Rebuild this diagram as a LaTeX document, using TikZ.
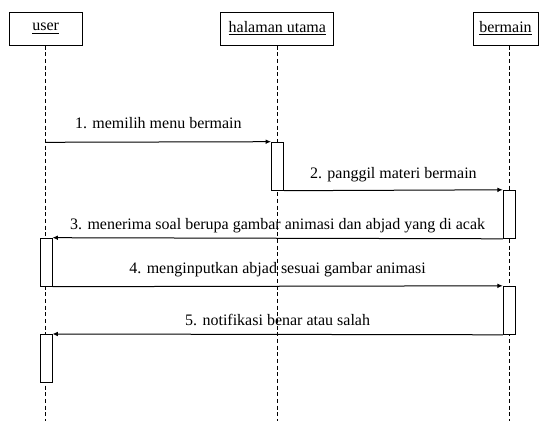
\documentclass[tikz,border=0pt]{standalone}
\usepackage{fontspec}
\setmainfont{Liberation Serif}
\usetikzlibrary{arrows.meta}

\begin{document}
\begin{tikzpicture}[x=0.75pt,y=-0.75pt,>={Latex[length=4pt,width=3.5pt]},
    line width=0.75pt,font=\fontsize{12}{14}\selectfont,
    obj/.style={draw,inner sep=0,minimum height=24.75pt},
    act/.style={draw,fill=white,inner sep=0,minimum width=9pt,minimum height=36pt},
    life/.style={dash pattern=on 3pt off 2pt},
    lbl/.style={anchor=base,inner sep=0}]

\useasboundingbox (0,0) rectangle (539,421);

\node [obj,minimum width=54.75pt] (user) at (45.7,28.5) {\underline{user}};
\node [obj,minimum width=84.75pt] (hal) at (277.3,28.5) {\underline{halaman utama}};
\node [obj,minimum width=48.75pt] (main) at (505.5,28.5) {\underline{bermain}};

\coordinate (userEnd) at (45.7,421);
\coordinate (halEnd) at (277.3,421);
\coordinate (mainEnd) at (509,421);
\coordinate (m1) at (45.7,142.3);

\path [draw,life]
    (user.south) -- (userEnd)
    (hal.south) -- (halEnd)
    (main.south -| mainEnd) -- (mainEnd)
;

\node [act] (act1) at (277.5,166.2) {};
\node [act] (act2) at (509.3,214.3) {};
\node [act] (act3) at (46,262.2) {};
\node [act] (act4) at (509.3,310.3) {};
\node [act] (act5) at (46,358.5) {};

\draw [->] (m1) -- (act1.north west)
    node [lbl,midway,yshift=10.5pt] {1. memilih menu bermain};
\draw [->] (act1.south east) -- (act2.north west)
    node [lbl,midway,yshift=9pt] {2. panggil materi bermain};
\draw [->] (act2.south west) -- (act3.north east)
    node [lbl,midway,yshift=6.5pt] {3. menerima soal berupa gambar animasi dan abjad yang di acak};
\draw [->] (act3.south east) -- (act4.north west)
    node [lbl,midway,yshift=9.75pt] {4. menginputkan abjad sesuai gambar animasi};
\draw [->] (act4.south west) -- (act5.north east)
    node [lbl,midway,yshift=6.5pt] {5. notifikasi benar atau salah};

\end{tikzpicture}
\end{document}
